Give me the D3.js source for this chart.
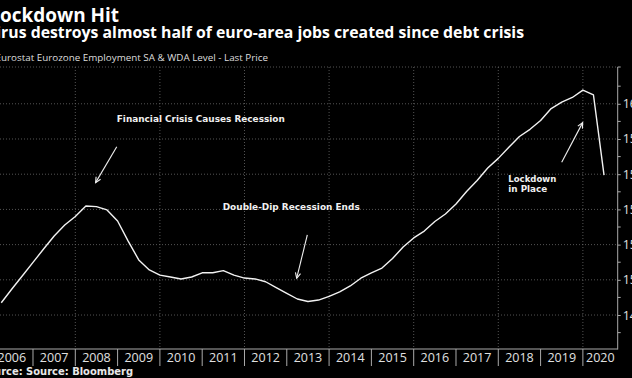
<!DOCTYPE html>
<html><head><meta charset="utf-8">
<script src="https://cdn.jsdelivr.net/npm/d3@7"></script>
<style>html,body{margin:0;padding:0;background:#000;overflow:hidden}</style>
</head><body>
<svg id="c" width="632" height="378"></svg>
<script>
// ---- data ----
const quarters = [
  "2006Q1","2006Q2","2006Q3","2006Q4","2007Q1","2007Q2","2007Q3","2007Q4",
  "2008Q1","2008Q2","2008Q3","2008Q4","2009Q1","2009Q2","2009Q3","2009Q4",
  "2010Q1","2010Q2","2010Q3","2010Q4","2011Q1","2011Q2","2011Q3","2011Q4",
  "2012Q1","2012Q2","2012Q3","2012Q4","2013Q1","2013Q2","2013Q3","2013Q4",
  "2014Q1","2014Q2","2014Q3","2014Q4","2015Q1","2015Q2","2015Q3","2015Q4",
  "2016Q1","2016Q2","2016Q3","2016Q4","2017Q1","2017Q2","2017Q3","2017Q4",
  "2018Q1","2018Q2","2018Q3","2018Q4","2019Q1","2019Q2","2019Q3","2019Q4",
  "2020Q1","2020Q2"];
const employment = [
  148.70,149.48,150.23,150.99, 151.75,152.49,153.11,153.60,
  154.19,154.16,153.97,153.34, 152.20,151.13,150.56,150.27,
  150.16,150.05,150.16,150.40, 150.40,150.52,150.27,150.10,
  150.05,149.89,149.56,149.23, 148.91,148.77,148.85,149.06,
  149.31,149.65,150.09,150.40, 150.67,151.21,151.86,152.38,
  152.77,153.31,153.74,154.31, 155.02,155.64,156.35,156.90,
  157.53,158.14,158.55,159.05, 159.73,160.09,160.36,160.78,
  160.50,155.95];
const yTicks = [148,150,152,154,156,158,160];
const yMinorTicks = [147,149,151,153,155,157,159,161];
const yearLabels = [2006,2007,2008,2009,2010,2011,2012,2013,2014,2015,2016,2017,2018,2019,2020];
const titleText = "Lockdown Hit";
const subtitleText = "Virus destroys almost half of euro-area jobs created since debt crisis";
const seriesText = "Eurostat Eurozone Employment SA & WDA Level - Last Price";
const sourceText = "Source: Source: Bloomberg";
const annotations = [
  {lines:["Financial Crisis Causes Recession"], t:2008.98, v:159.14, from:[2008.98,157.56], to:[2008.48,155.52]},
  {lines:["Double-Dip Recession Ends"], t:2011.485, v:154.15, from:[2013.485,152.55], to:[2013.234,150.09]},
  {lines:["Lockdown","in Place"], t:2018.236, v:155.77, from:[2019.499,156.68], to:[2019.995,158.93]}
];

// ---- chart ----
const svg = d3.select("#c");
svg.append("rect").attr("width",632).attr("height",378).attr("fill","#000");

const x = d3.scaleLinear().domain([2006, 2020.823]).range([-9.3, 617.7]);
const y = d3.scaleLinear().domain([146.07, 162.09]).range([349, 67]);
const qx = q => +q.slice(0,4) + (+q.slice(5))/4;
const data = quarters.map((q,i)=>({t:qx(q), v:employment[i]}));

const grid = svg.append("g");
// horizontal gridlines
grid.selectAll("line.h").data(yTicks.concat([y.domain()[1]])).join("line")
  .attr("x1",0).attr("x2",x.range()[1]).attr("y1",d=>y(d)).attr("y2",d=>y(d))
  .attr("stroke","#6a6a6a").attr("stroke-width",0.8).attr("stroke-dasharray","1,2");
// vertical gridlines every 2 years
grid.selectAll("line.v").data([2008,2010,2012,2014,2016,2018,2020]).join("line")
  .attr("x1",d=>x(d)).attr("x2",d=>x(d)).attr("y1",y.range()[1]).attr("y2",y.range()[0])
  .attr("stroke","#6a6a6a").attr("stroke-width",0.8).attr("stroke-dasharray","1,2");

// right axis
const yAxis = d3.axisRight(y).tickValues(yTicks).tickSize(3).tickPadding(2).tickFormat(d3.format("d"));
const ga = svg.append("g").attr("transform",`translate(${x.range()[1]},0)`).call(yAxis);
ga.select(".domain").remove();
ga.selectAll("line").attr("stroke","#aaa");
ga.selectAll("text").attr("fill","#e0e0e0").attr("font-family","Open Sans, sans-serif").attr("font-size",12.5);
svg.append("line").attr("x1",x.range()[1]).attr("x2",x.range()[1]).attr("y1",y.range()[1]).attr("y2",y.range()[0]+0.5)
  .attr("stroke","#aaa").attr("stroke-width",1);
svg.selectAll("line.minor").data(yMinorTicks.concat([y.domain()[1]])).join("line")
  .attr("x1",x.range()[1]).attr("x2",x.range()[1]+3).attr("y1",d=>y(d)).attr("y2",d=>y(d))
  .attr("stroke","#aaa");

// bottom axis
svg.append("line").attr("x1",0).attr("x2",x.range()[1]).attr("y1",y.range()[0]).attr("y2",y.range()[0])
  .attr("stroke","#aaa").attr("stroke-width",1);
svg.selectAll("line.sep").data(yearLabels.slice(1)).join("line")
  .attr("x1",d=>x(d)).attr("x2",d=>x(d)).attr("y1",y.range()[0]).attr("y2",366)
  .attr("stroke","#aaa").attr("stroke-width",1);
svg.selectAll("text.yr").data(yearLabels).join("text")
  .attr("x",d=>(x(d)+Math.min(x(d+1),x.range()[1]))/2).attr("y",362)
  .attr("text-anchor","middle").attr("fill","#e0e0e0")
  .attr("font-family","Open Sans, sans-serif").attr("font-size",12.5).text(d=>d);

// line
svg.append("path").datum(data)
  .attr("d", d3.line().x(d=>x(d.t)).y(d=>y(d.v)))
  .attr("fill","none").attr("stroke","#f2f2f2").attr("stroke-width",1.4).attr("stroke-linejoin","round");

// annotations
const ann = svg.append("g");
const annWidths = [[168],[137],[48,39]];
annotations.forEach((a,i)=>{
  a.lines.forEach((ln,j)=>{
    ann.append("text").attr("x",x(a.t)).attr("y",y(a.v)+3.5+j*10.7)
      .attr("fill","#f0f0f0").attr("font-family","DejaVu Sans, sans-serif").attr("font-weight","bold")
      .attr("font-size",9.5).attr("textLength",annWidths[i][j]).attr("lengthAdjust","spacingAndGlyphs").text(ln);
  });
  const x1=x(a.from[0]), y1=y(a.from[1]), x2=x(a.to[0]), y2=y(a.to[1]);
  ann.append("line").attr("x1",x1).attr("y1",y1).attr("x2",x2).attr("y2",y2)
    .attr("stroke","#f0f0f0").attr("stroke-width",1.1);
  const ang = Math.atan2(y2-y1, x2-x1), L=6, w=0.45;
  ann.append("path").attr("d",`M${x2-L*Math.cos(ang-w)},${y2-L*Math.sin(ang-w)}L${x2},${y2}L${x2-L*Math.cos(ang+w)},${y2-L*Math.sin(ang+w)}`)
    .attr("fill","none").attr("stroke","#f0f0f0").attr("stroke-width",1.1);
});

// titles: fit visible part to measured width, right edge fixed
function fitText(str, visible, rightX, baseY, width, weight, family, color){
  const t = svg.append("text").attr("font-family",family).attr("font-weight",weight)
    .attr("font-size",20).text(visible);
  const w = t.node().getComputedTextLength();
  const fs = 20*width/w;
  t.attr("font-size",fs).attr("x",rightX).attr("y",baseY).attr("text-anchor","end")
    .attr("fill",color).text(str);
}
fitText(titleText, "ockdown Hit", 119, 21.5, 119, "bold", "Open Sans, sans-serif", "#ffffff");
fitText(subtitleText, "rus destroys almost half of euro-area jobs created since debt crisis", 524, 38, 523, "bold", "Open Sans, sans-serif", "#ffffff");
fitText(seriesText, "urostat Eurozone Employment SA & WDA Level - Last Price", 268, 61, 267, "normal", "Open Sans, sans-serif", "#dddddd");
fitText(sourceText, "rce: Source: Bloomberg", 133, 375, 132, "bold", "DejaVu Sans, sans-serif", "#e8e8e8");
</script>
</body></html>
